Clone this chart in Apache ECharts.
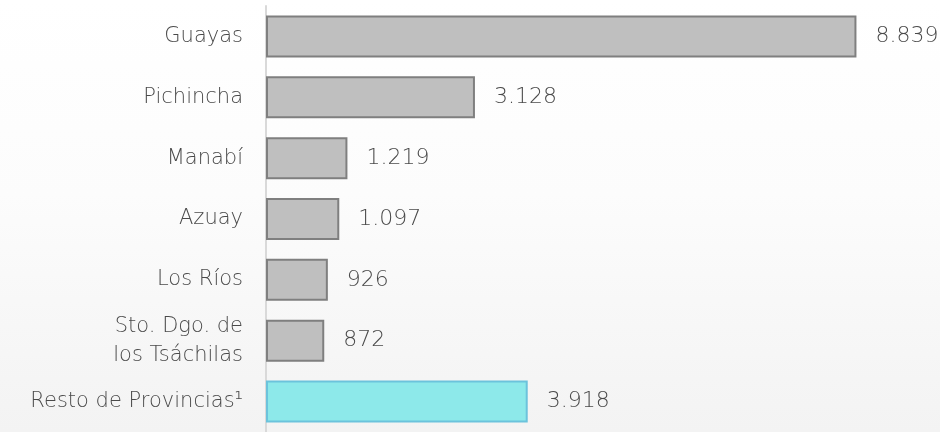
<!DOCTYPE html>
<html>
<head>
<meta charset="utf-8">
<script src="https://cdn.jsdelivr.net/npm/echarts@6/dist/echarts.min.js"></script>
<style>
  html, body { margin: 0; padding: 0; }
  #chart { width: 940px; height: 432px; }
</style>
</head>
<body>
<div id="chart"></div>
<script>
// provincias, de arriba hacia abajo
var provincias = ['Guayas', 'Pichincha', 'Manabí', 'Azuay', 'Los Ríos', 'Sto. Dgo. de\nlos Tsáchilas', 'Resto de Provincias¹'];
var valores = [8839, 3128, 1219, 1097, 926, 872, 3918];
var destacado = 'Resto de Provincias¹';

var chart = echarts.init(document.getElementById('chart'));

var option = {
  backgroundColor: {
    type: 'linear', x: 0, y: 0, x2: 0, y2: 1,
    colorStops: [
      { offset: 0, color: '#ffffff' },
      { offset: 0.45, color: '#fcfcfc' },
      { offset: 1, color: '#f3f3f3' }
    ]
  },
  grid: {
    left: 266,
    right: 6,
    top: 6,
    height: 429
  },
  xAxis: {
    type: 'value',
    min: 0,
    max: 10000,
    show: false
  },
  yAxis: {
    type: 'category',
    inverse: true,
    data: provincias,
    axisTick: { show: false },
    axisLine: {
      lineStyle: { color: '#d9d9d9', width: 2 }
    },
    axisLabel: {
      margin: 23,
      color: '#4a4a4a',
      fontSize: 21,
      lineHeight: 29,
      fontFamily: 'DejaVu Sans',
      fontWeight: 200
    }
  },
  series: [
    {
      type: 'bar',
      barCategoryGap: '31%',
      data: valores.map(function (v, i) {
        var cian = provincias[i] === destacado;
        return {
          value: v,
          itemStyle: cian
            ? { color: '#8de9ea', borderColor: '#6cc3dc', borderWidth: 2 }
            : { color: '#bfbfbf', borderColor: '#7f7f7f', borderWidth: 2 }
        };
      }),
      label: {
        show: true,
        position: 'right',
        distance: 19,
        color: '#4a4a4a',
        fontSize: 22,
        fontFamily: 'DejaVu Sans',
        fontWeight: 200,
        formatter: function (p) {
          return p.value.toLocaleString('de-DE');
        }
      },
      silent: true
    }
  ]
};
chart.setOption(option);
</script>
</body>
</html>
